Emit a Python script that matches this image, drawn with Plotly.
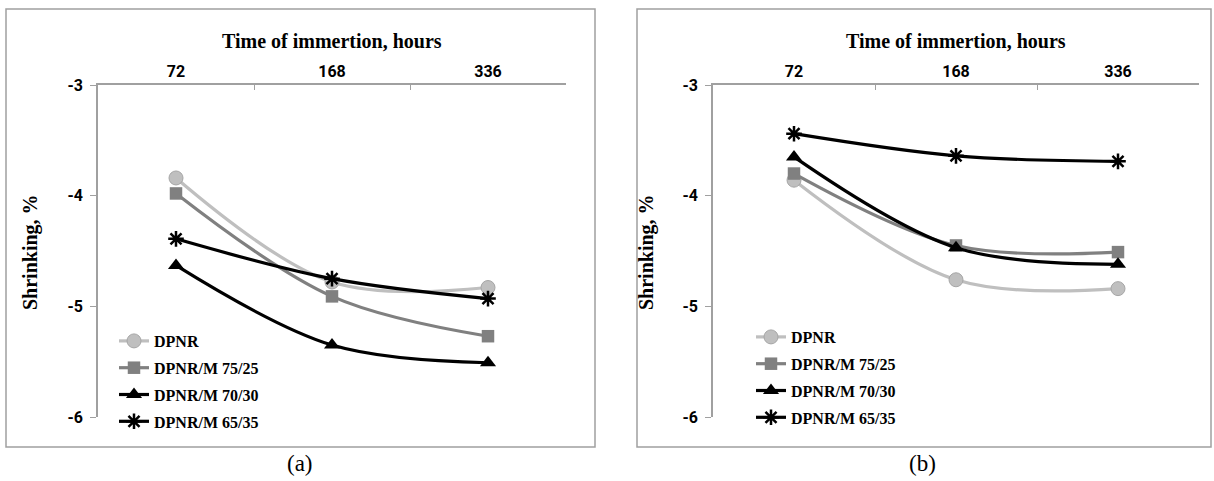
import plotly.graph_objects as go

categories = ["72", "168", "336"]
series_names = ["DPNR", "DPNR/M 75/25", "DPNR/M 70/30", "DPNR/M 65/35"]

# Panel (a)
a_dpnr = [-3.84, -4.78, -4.83]
a_7525 = [-3.98, -4.91, -5.27]
a_7030 = [-4.63, -5.35, -5.51]
a_6535 = [-4.39, -4.75, -4.93]

# Panel (b)
b_dpnr = [-3.86, -4.76, -4.84]
b_7525 = [-3.80, -4.45, -4.51]
b_7030 = [-3.65, -4.47, -4.62]
b_6535 = [-3.44, -3.64, -3.69]

y_ticks = [-3, -4, -5, -6]
y_tick_labels = ["-3", "-4", "-5", "-6"]

W, H = 1214, 481

styles = [
    dict(line=dict(color="#BFBFBF", width=3.2, shape="spline"),
         marker=dict(symbol="circle", size=14, color="#BFBFBF", line=dict(color="#A6A6A6", width=1))),
    dict(line=dict(color="#808080", width=3.2, shape="spline"),
         marker=dict(symbol="square", size=12.5, color="#808080", line=dict(color="#808080", width=0))),
    dict(line=dict(color="#000000", width=3.2, shape="spline"),
         marker=dict(symbol="triangle-up", size=14, color="#000000", line=dict(width=0))),
    dict(line=dict(color="#000000", width=3.2, shape="spline"),
         marker=dict(symbol="asterisk-open", size=13, color="#000000", line=dict(color="#000000", width=2.5))),
]

fig = go.Figure()
panels = [
    ("x", "y", "legend", [a_dpnr, a_7525, a_7030, a_6535]),
    ("x2", "y2", "legend2", [b_dpnr, b_7525, b_7030, b_6535]),
]
for xa, ya, lg, data in panels:
    for i, (name, vals) in enumerate(zip(series_names, data)):
        fig.add_trace(go.Scatter(
            x=categories, y=vals, name="<b>" + name + "</b>", mode="lines+markers",
            xaxis=xa, yaxis=ya, legend=lg, legendgroup=lg + str(i),
            **styles[i]))

def px_x(v):
    return v / W

def px_y(v):
    return 1 - v / H

tickfont = dict(family="Roboto", size=16, color="#000")
axis_x_common = dict(type="category", side="top", range=[-0.5, 2.5], tickson="boundaries",
                     tickvals=categories, ticktext=["<b>" + c + "</b>" for c in categories],
                     ticks="inside", ticklen=5, tickcolor="#A0A0A0", showline=True,
                     linecolor="#A0A0A0", linewidth=1.5, showgrid=False, zeroline=False,
                     tickfont=tickfont, fixedrange=True, automargin=False)
axis_y_common = dict(range=[-6, -3], tickvals=y_ticks, ticktext=["<b>" + t + "</b>" for t in y_tick_labels],
                     ticks="outside", ticklen=6, ticklabelstandoff=4,
                     tickcolor="#A0A0A0", showline=True, linecolor="#A0A0A0", linewidth=1.5,
                     showgrid=False, zeroline=False, tickfont=tickfont, automargin=False)

legend_font = dict(family="Liberation Serif", size=16, color="#000")
fig.update_layout(
    width=W, height=H, margin=dict(l=0, r=0, t=0, b=0, autoexpand=False),
    paper_bgcolor="white", plot_bgcolor="white",
    xaxis=dict(domain=[px_x(98), px_x(566)], anchor="y", **axis_x_common),
    yaxis=dict(domain=[px_y(417), px_y(85)], anchor="x", **axis_y_common),
    xaxis2=dict(domain=[px_x(713), px_x(1199)], anchor="y2", **axis_x_common),
    yaxis2=dict(domain=[px_y(417), px_y(85)], anchor="x2", **axis_y_common),
    legend=dict(x=px_x(114), y=px_y(324), xanchor="left", yanchor="top",
                bgcolor="rgba(0,0,0,0)", tracegroupgap=3, font=legend_font),
    legend2=dict(x=px_x(751), y=px_y(320), xanchor="left", yanchor="top",
                 bgcolor="rgba(0,0,0,0)", tracegroupgap=3, font=legend_font),
    showlegend=True,
)

title_font = dict(family="Liberation Serif", size=20, color="#000")
ann = []
for cx, cap, bx in [(332, "(a)", 300), (956, "(b)", 922)]:
    ann.append(dict(text="<b>Time of immertion, hours</b>", x=px_x(cx), y=px_y(41), xref="paper", yref="paper",
                    showarrow=False, font=title_font, xanchor="center", yanchor="middle"))
    ann.append(dict(text=cap, x=px_x(bx), y=px_y(463), xref="paper", yref="paper",
                    showarrow=False, font=dict(family="Liberation Serif", size=23, color="#000"),
                    xanchor="center", yanchor="middle"))
for cx in [30, 646]:
    ann.append(dict(text="<b>Shrinking, %</b>", x=px_x(cx), y=px_y(252), xref="paper", yref="paper",
                    showarrow=False, textangle=-90, font=dict(family="Liberation Serif", size=20, color="#000"),
                    xanchor="center", yanchor="middle"))
fig.update_layout(annotations=ann)

shapes = []
for x0, x1 in [(6, 595), (637, 1211)]:
    shapes.append(dict(type="rect", xref="paper", yref="paper",
                       x0=px_x(x0), x1=px_x(x1), y0=px_y(447), y1=px_y(9),
                       line=dict(color="#A0A0A0", width=1.5), fillcolor="rgba(0,0,0,0)", layer="below"))
fig.update_layout(shapes=shapes)

fig.write_html("out.html")
